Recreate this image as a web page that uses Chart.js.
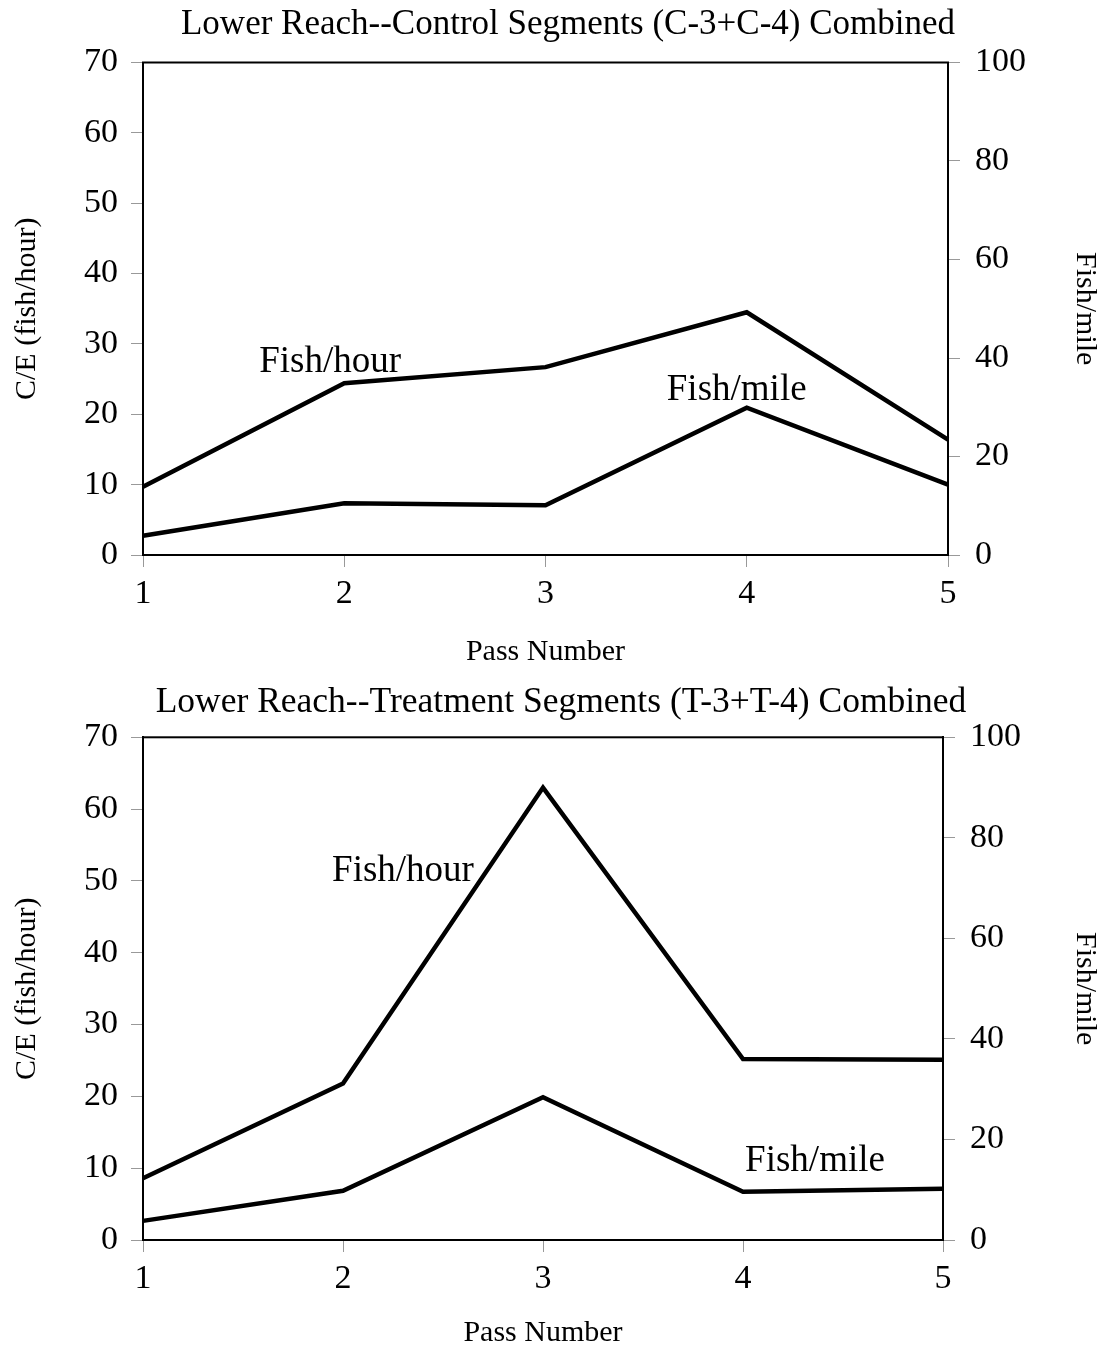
<!DOCTYPE html>
<html>
<head>
<meta charset="utf-8">
<title>Lower Reach C/E by Pass</title>
<script src="https://cdn.jsdelivr.net/npm/chart.js@4.4.1/dist/chart.umd.min.js"></script>
<style>
  body { margin: 0; background: #fff; }
  .box { position: relative; width: 1106px; }
  #control-box { height: 672px; }
  #treatment-box { height: 676px; }
</style>
</head>
<body>
<div class="box" id="control-box"><canvas id="control"></canvas></div>
<div class="box" id="treatment-box"><canvas id="treatment"></canvas></div>
<script>
// pass numbers along the bottom
const passes = ['1', '2', '3', '4', '5'];
const hourTicks = [0, 10, 20, 30, 40, 50, 60, 70];
const mileTicks = [0, 20, 40, 60, 80, 100];

// control segments C-3 + C-4
const controlFishHour = [9.7, 24.4, 26.7, 34.5, 16.4];
const controlFishMile = [3.9, 10.5, 10.1, 29.9, 14.3];

// treatment segments T-3 + T-4
const treatFishHour = [8.6, 21.8, 63.0, 25.2, 25.1];
const treatFishMile = [3.8, 9.8, 28.4, 9.6, 10.2];

Chart.defaults.font.family = '"Liberation Serif", "Times New Roman", serif';
Chart.defaults.color = '#000';

// box round the plot area
const frame = {
    id: 'frame',
    afterDatasetsDraw(chart) {
        const { ctx, chartArea: a } = chart;
        ctx.save();
        ctx.strokeStyle = '#000';
        ctx.lineWidth = 2;
        ctx.strokeRect(a.left, a.top, a.right - a.left, a.bottom - a.top);
        ctx.restore();
    }
};

// chart heading, sits a little right of centre
const heading = {
    id: 'heading',
    afterDraw(chart, args, opts) {
        const { ctx } = chart;
        ctx.save();
        ctx.font = opts.size + 'px "Liberation Serif"';
        ctx.fillStyle = '#000';
        ctx.textAlign = 'center';
        ctx.textBaseline = 'middle';
        ctx.fillText(opts.text, opts.x, opts.y);
        ctx.restore();
    }
};

// in-plot line names, placed on the pass / left axis scales
const lineNames = {
    id: 'lineNames',
    afterDraw(chart, args, opts) {
        const { ctx, scales } = chart;
        ctx.save();
        ctx.font = '37px "Liberation Serif"';
        ctx.fillStyle = '#000';
        ctx.textAlign = 'center';
        ctx.textBaseline = 'alphabetic';
        opts.items.forEach(n => {
            ctx.fillText(n.text, scales.x.getPixelForValue(n.pass - 1), scales.y.getPixelForValue(n.y));
        });
        ctx.restore();
    }
};

const tickFont = { size: 34, lineHeight: 1.2 };
const titleFont = { size: 30, lineHeight: 1 };

function lineSet(data, axis) {
    return {
        data: data,
        yAxisID: axis,
        borderColor: '#000',
        borderWidth: 4.5,
        pointRadius: 0,
        tension: 0,
        fill: false
    };
}

function makeChart(id, title, hour, mile, names, size) {
    return new Chart(document.getElementById(id), {
        type: 'line',
        data: {
            labels: passes,
            datasets: [lineSet(hour, 'y'), lineSet(mile, 'y1')]
        },
        options: {
            responsive: true,
            maintainAspectRatio: false,
            animation: false,
            layout: { padding: { top: size.areaTop, left: 0, right: 0, bottom: 0 } },
            plugins: {
                legend: { display: false },
                tooltip: { enabled: false },
                title: { display: false },
                heading: { text: title, size: size.titleSize, x: size.titleX, y: size.titleY },
                lineNames: { items: names }
            },
            scales: {
                x: {
                    grid: { drawOnChartArea: false, tickLength: 12, tickColor: '#999' },
                    border: { color: '#000', width: 2 },
                    ticks: { font: tickFont, padding: 7, maxRotation: 0 },
                    title: { display: true, text: 'Pass Number', font: titleFont, padding: { top: 0, bottom: size.passPad } },
                    afterFit: s => { s.height = size.xHeight; }
                },
                y: {
                    position: 'left',
                    min: 0,
                    max: 70,
                    afterBuildTicks: s => { s.ticks = hourTicks.map(v => ({ value: v })); },
                    grid: { drawOnChartArea: false, tickLength: 12, tickColor: '#999' },
                    border: { color: '#000', width: 2 },
                    ticks: { font: tickFont, padding: 13 },
                    title: { display: true, text: 'C/E (fish/hour)', font: titleFont, padding: { top: 12, bottom: 0 } },
                    afterFit: s => { s.width = 143; }
                },
                y1: {
                    position: 'right',
                    min: 0,
                    max: 100,
                    afterBuildTicks: s => { s.ticks = mileTicks.map(v => ({ value: v })); },
                    grid: { drawOnChartArea: false, tickLength: 12, tickColor: '#999' },
                    border: { color: '#000', width: 2 },
                    ticks: { font: tickFont, padding: 15 },
                    title: { display: true, text: 'Fish/mile', font: titleFont, padding: { top: 6, bottom: 0 } },
                    afterFit: s => { s.width = size.rightWidth; }
                }
            }
        },
        plugins: [frame, heading, lineNames]
    });
}

makeChart('control', 'Lower Reach--Control Segments (C-3+C-4) Combined',
    controlFishHour, controlFishMile,
    [{ text: 'Fish/hour', pass: 1.93, y: 26.0 }, { text: 'Fish/mile', pass: 3.95, y: 22.0 }],
    { areaTop: 62.5, titleSize: 35, titleX: 568, titleY: 25, xHeight: 117, rightWidth: 158, passPad: 5 });

makeChart('treatment', 'Lower Reach--Treatment Segments (T-3+T-4) Combined',
    treatFishHour, treatFishMile,
    [{ text: 'Fish/hour', pass: 2.30, y: 50.0 }, { text: 'Fish/mile', pass: 4.36, y: 9.6 }],
    { areaTop: 65.3, titleSize: 35.5, titleX: 561, titleY: 31, xHeight: 108, rightWidth: 163, passPad: 0 });
</script>
</body>
</html>
